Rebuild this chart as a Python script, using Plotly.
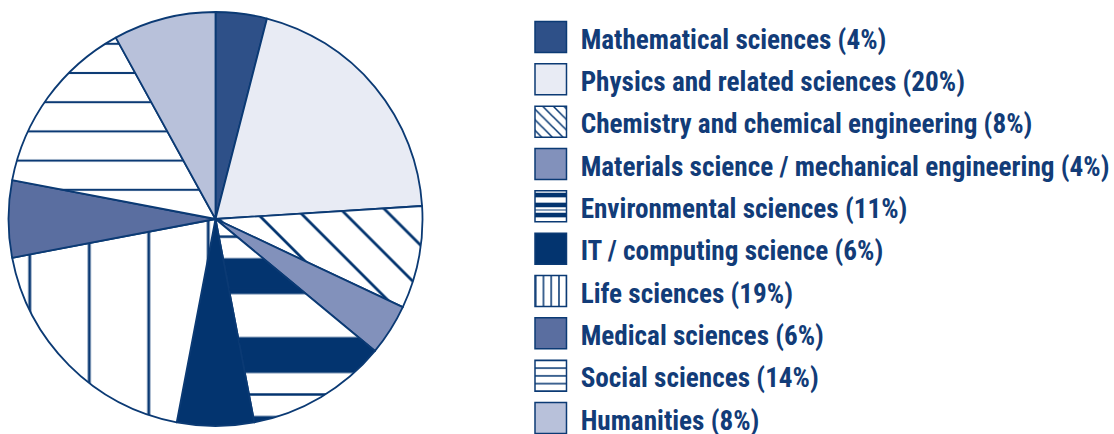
import plotly.graph_objects as go

# Share of researchers by field
fields = [
    "Mathematical sciences",
    "Physics and related sciences",
    "Chemistry and chemical engineering",
    "Materials science / mechanical engineering",
    "Environmental sciences",
    "IT / computing science",
    "Life sciences",
    "Medical sciences",
    "Social sciences",
    "Humanities",
]
shares = [4, 20, 8, 4, 11, 6, 19, 6, 14, 8]

NAVY = "#0b3a74"
DARK = "#03346f"
TEXT = "#123c78"
FONT = "Roboto Condensed, Open Sans Condensed, Liberation Sans Narrow, sans-serif"

fills = ["#2e5088", "#e8ebf4", DARK, "#8291bb", DARK,
         DARK, NAVY, "#5a6ea0", NAVY, "#b8c1da"]
shapes = ["", "", "\\", "", "-", "", "|", "", "-", ""]

# pattern geometry for the pie (px)
ENV_BAND = 78.9
pie_sizes = [8, 8, 31, 8, ENV_BAND, 8, 59.5, 8, 29.2, 8]
pie_solid = [0.3, 0.3, 0.09, 0.3, 0.456, 0.3, 0.048, 0.3, 0.07, 0.3]
# pattern geometry for the key swatches (px)
KEY_BAND = 10
key_sizes = [8, 8, 7.5, 8, KEY_BAND, 8, 7.75, 8, 7.75, 8]
key_solid = [0.3, 0.3, 0.2, 0.3, 0.45, 0.3, 0.2, 0.3, 0.2, 0.3]

ENV = fields.index("Environmental sciences")
clear = "rgba(0,0,0,0)"
overlay_fill = [DARK if i == ENV else clear for i in range(len(fields))]
overlay_shape = ["-" if i == ENV else "" for i in range(len(fields))]

W, H = 1114, 434
cx, cy, r = 215.5, 219.0, 207.0
pie_domain = dict(x=[(cx - r) / W, (cx + r) / W],
                  y=[(H - cy - r) / H, (H - cy + r) / H])

fig = go.Figure()

fig.add_trace(go.Pie(
    labels=fields, values=shares, sort=False, direction="clockwise",
    rotation=0, domain=pie_domain, textinfo="none", showlegend=False,
    hoverinfo="label+percent",
    marker=dict(
        colors=fills,
        line=dict(color=NAVY, width=1.8),
        pattern=dict(shape=shapes, size=pie_sizes, solidity=pie_solid,
                     fgcolor=fills, bgcolor="white", fillmode="replace"),
    ),
))

# thin rules between the thick bands of the environmental-sciences slice
fig.add_trace(go.Pie(
    labels=fields, values=shares, sort=False, direction="clockwise",
    rotation=0, domain=pie_domain, textinfo="none", showlegend=False,
    hoverinfo="skip",
    marker=dict(
        colors=overlay_fill,
        line=dict(color=clear, width=0),
        pattern=dict(shape=overlay_shape, size=ENV_BAND * 2 / 3, solidity=0.048,
                     fgcolor=overlay_fill, bgcolor=clear, fillmode="replace"),
    ),
))

# key: one patterned square per field, labelled on the right
key_labels = [f"{f} ({s}%)" for f, s in zip(fields, shares)]
idx = list(range(len(fields)))

fig.add_trace(go.Bar(
    x=[1] * len(fields), y=idx, orientation="h", width=0.732,
    xaxis="x2", yaxis="y2", showlegend=False, hoverinfo="skip",
    marker=dict(
        color=fills,
        line=dict(color=NAVY, width=1.5),
        pattern=dict(shape=shapes, size=key_sizes, solidity=key_solid,
                     fgcolor=fills, bgcolor="white", fillmode="replace"),
    ),
))
fig.add_trace(go.Bar(
    x=[1] * len(fields), y=idx, orientation="h", width=0.732,
    xaxis="x2", yaxis="y2", showlegend=False, hoverinfo="skip",
    marker=dict(
        color=overlay_fill,
        line=dict(color=clear, width=0),
        pattern=dict(shape=overlay_shape, size=KEY_BAND * 2 / 3, solidity=0.15,
                     fgcolor=overlay_fill, bgcolor=clear, fillmode="replace"),
    ),
))

px_per_row = 42.333
top_row_px = 37.0
r_top = -top_row_px / px_per_row
r_bottom = r_top + H / px_per_row

key_x0, key_w = 535.0, 31.5
pad = 0.1
fig.update_layout(
    width=W, height=H,
    margin=dict(l=0, r=0, t=0, b=0, autoexpand=False),
    paper_bgcolor="white", plot_bgcolor="rgba(0,0,0,0)",
    barmode="overlay",
    font=dict(family=FONT, color=TEXT),
    xaxis2=dict(domain=[(key_x0 - pad * key_w) / W, (key_x0 + (1 + pad) * key_w) / W],
                range=[-pad, 1 + pad], visible=False, fixedrange=True,
                automargin=False),
    yaxis2=dict(domain=[0, 1], range=[r_bottom, r_top], anchor="free",
                position=(key_x0 + (1 + pad) * key_w) / W, side="right",
                tickmode="array", tickvals=idx, ticktext=key_labels,
                showgrid=False, zeroline=False, showline=False, ticks="",
                ticklabelstandoff=10, ticklabelshift=-2,
                ticklabeloverflow="allow", fixedrange=True,
                automargin=False,
                tickfont=dict(size=27.2, weight="bold", color=TEXT, family=FONT)),
)

fig.write_html("out.html")
